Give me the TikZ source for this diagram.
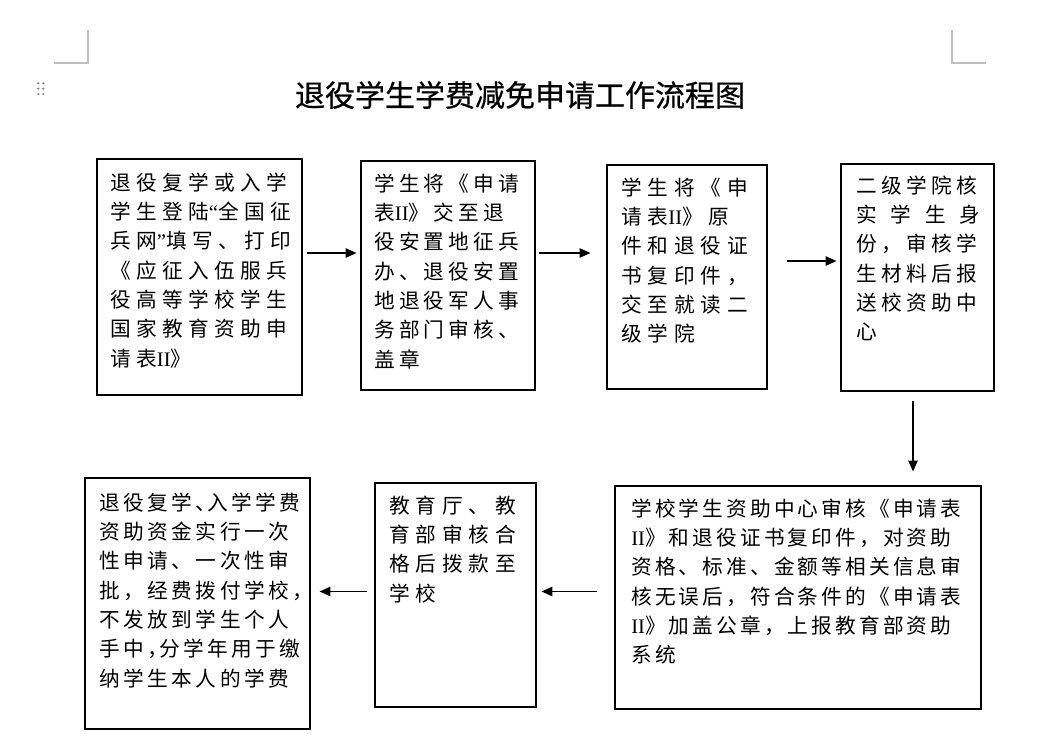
\documentclass[tikz,border=0pt]{standalone}
\usepackage{fontspec}
\usepackage{tikz}
\usetikzlibrary{arrows.meta,calc,fit}
\newfontfamily\cjk{Noto Sans CJK SC}
\newfontfamily\lat{Liberation Serif}
\newcommand{\bt}[1]{\fontsize{15.5}{22}\cjk\addfontfeature{LetterSpace=#1}}
\newcommand{\fl}{\rule{0pt}{16pt}}

\begin{document}
\begin{tikzpicture}[x=0.75pt,y=0.75pt,yscale=-1,xscale=1,
	box/.style={draw,line width=0.9pt,inner sep=0pt},
	txt/.style={anchor=north west,inner sep=0pt,align=left},
	arr/.style={line width=0.9pt,-{Triangle[length=8pt,width=7pt]}},
	crop/.style={draw={rgb,255:red,190;green,190;blue,190},line width=0.8pt}]
	\useasboundingbox (0,0) rectangle (1056,753);
	
	%Straight Lines [page corners]
	\draw [crop] (88,30) -- (88,63) -- (54,63) ;
	\draw [crop] (952,30) -- (952,63) -- (986,63) ;
	%Shape: Dots
	\foreach \i in {38.3,43.3}
		\foreach \j in {83.3,88.6,94}
			\fill [gray] (\i,\j) circle [radius=1.2] ;
	
	% Text Node
	\node (title) [font=\fontsize{22.5}{27}\cjk\addfontfeature{FakeBold=0.6},inner sep=0pt] at (520,95) {退役学生学费减免申请工作流程图};
	
	%Shape: Rectangle
	\node (b1) [box,fit={(97,159) (302,395)}] {};
	\node (b2) [box,fit={(361,161) (535,390)}] {};
	\node (b3) [box,fit={(607,165) (767,389)}] {};
	\node (b4) [box,fit={(841,164) (994,391)}] {};
	\node (b5) [box,fit={(615,486) (981,709)}] {};
	\node (b6) [box,fit={(375,483) (536,707)}] {};
	\node (b7) [box,fit={(85,478) (310,729)}] {};
	
	% Text Node
	\node (t1) [txt,font=\bt{25.8}] at (110,168.7) {\fl 退役复学或入学\\学生登陆{\lat “}全国征\\兵网{\lat ”}填写、打印\\《应征入伍服兵\\役高等学校学生\\国家教育资助申\\请表{\lat II}》};
	% Text Node
	\node (t2) [txt,font=\bt{20}] at (374,169.7) {\fl 学生将《申请\\表{\lat II}》交至退\\役安置地征兵\\办、退役安置\\地退役军人事\\务部门审核、\\盖章};
	% Text Node
	\node (t3) [txt,font=\bt{28.2}] at (621,173.7) {\fl 学生将《申\\请表{\lat II}》原\\件和退役证\\书复印件，\\交至就读二\\级学院};
	% Text Node
	\node (t4) [txt,font=\bt{21}] at (856,171.7) {\fl 二级学院核\\\makebox[93pt][l]{实\hfill 学\hfill 生\hfill 身}\\份，审核学\\生材料后报\\送校资助中\\心};
	% Text Node
	\node (t5) [txt,font=\bt{15.2}] at (631,494.7) {\fl 学校学生资助中心审核《申请表\\{\lat II}》和退役证书复印件，对资助\\资格、标准、金额等相关信息审\\核无误后，符合条件的《申请表\\{\lat II}》加盖公章，上报教育部资助\\系统};
	% Text Node
	\node (t6) [txt,font=\bt{28.2}] at (389,491.7) {\fl 教育厅、教\\育部审核合\\格后拨款至\\学校};
	% Text Node
	\node (t7) [txt,font=\bt{17}] at (99,488.7) {\fl 退役复学、\hspace{-0.45em}入学学费\\资助资金实行一次\\性申请、一次性审\\批，经费拨付学校，\\不发放到学生个人\\手中，\hspace{-0.45em}分学年用于缴\\纳学生本人的学费};
	
	%Straight Lines
	\draw [arr] ($(b1.east)+(4,-24)$) -- ($(b2.west)+(-4,-22.5)$) ;
	\draw [arr] ($(b2.east)+(3,-22.5)$) -- ($(b3.west)+(-16,-24)$) ;
	\draw [arr] ($(b3.east)+(19,-16)$) -- ($(b4.west)+(-4,-16.5)$) ;
	\draw [arr] ($(b4.south)+(-4.5,9)$) -- ($(b5.north)+(115,-14)$) ;
	\draw [arr] ($(b5.west)+(-17,-6)$) -- ($(b6.east)+(5,-3.5)$) ;
	\draw [arr] ($(b6.west)+(-7,-3.5)$) -- ($(b7.east)+(9,-12)$) ;
	
\end{tikzpicture}
\end{document}
